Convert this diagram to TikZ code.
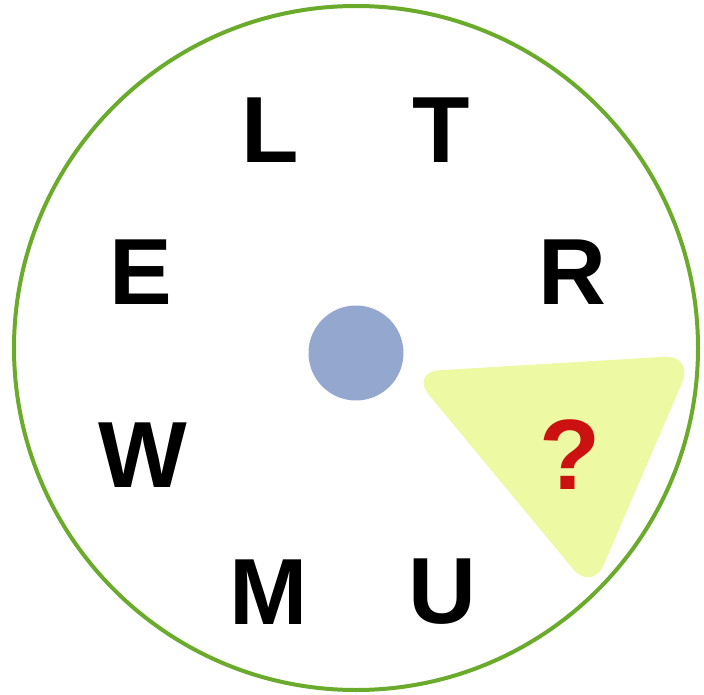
\documentclass[tikz,border=0pt]{standalone}
\usepackage{fontspec}
\setmainfont{Liberation Sans}
\definecolor{ringgreen}{HTML}{6AAB2C}
\definecolor{dotblue}{HTML}{94A8CF}
\definecolor{hiyellow}{HTML}{EEF9A4}
\definecolor{qred}{HTML}{CC1111}
\begin{document}
\begin{tikzpicture}[x=1pt,y=-1pt,
  letter/.style={inner sep=0pt, font=\fontsize{94}{94}\selectfont\bfseries, text=black}]
\useasboundingbox (0,0) rectangle (704,695);
\fill[white] (0,0) rectangle (704,695);
\node[draw=ringgreen, line width=4pt, circle, minimum size=684pt, inner sep=0pt] (ring) at (356,348) {};
\fill[hiyellow, rounded corners=30pt] (410,372) -- (694,355) -- (592,592) -- cycle;
\node[fill=dotblue, circle, minimum size=95pt, inner sep=0pt] (dot) at (356,353) {};
\node[letter] (L) at (270,130) {L};
\node[letter] (T) at (441,130) {T};
\node[letter] (E) at (141,272) {E};
\node[letter] (R) at (572,272) {R};
\node[letter] (W) at (143,455) {W};
\node[letter, text=qred, font=\fontsize{100}{100}\selectfont\bfseries] (Q) at (570,455) {?};
\node[letter] (M) at (269,592) {M};
\node[letter] (U) at (442,592) {U};
\end{tikzpicture}
\end{document}
